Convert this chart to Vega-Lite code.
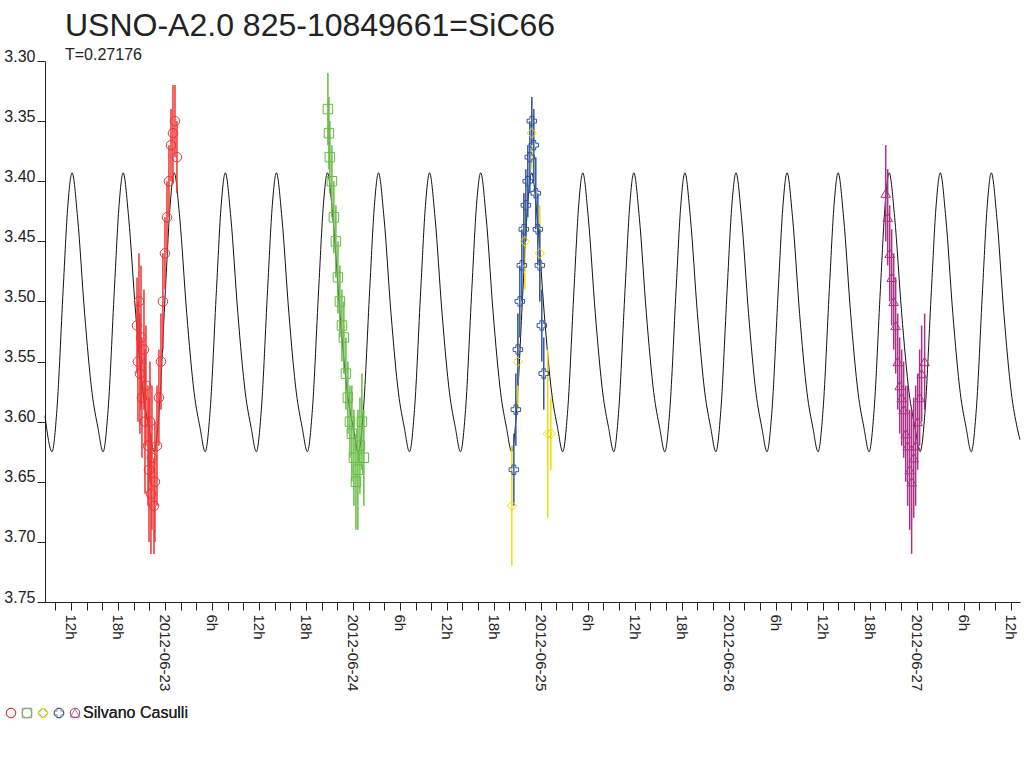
{
  "$schema": "https://vega.github.io/schema/vega-lite/v6.json",
  "autosize": "none",
  "padding": {"left": 45, "top": 61, "right": 4, "bottom": 166},
  "width": 975,
  "height": 541,
  "background": "white",
  "title": {
    "text": "USNO-A2.0 825-10849661=SiC66",
    "subtitle": "T=0.27176",
    "fontSize": 32, "fontWeight": "normal", "color": "#222",
    "subtitleFontSize": 16, "subtitleColor": "#222", "subtitlePadding": 4,
    "anchor": "start", "frame": "group", "dx": 20, "offset": -16
  },
  "datasets": {
    "model": [
      {"t": 8.68, "m": 3.595}, {"t": 9.58, "m": 3.625}, {"t": 10.2, "m": 3.59}, {"t": 11.0, "m": 3.49}, {"t": 11.6, "m": 3.42},
      {"t": 12.14, "m": 3.393}, {"t": 12.84, "m": 3.43}, {"t": 13.74, "m": 3.51}, {"t": 14.69, "m": 3.576}, {"t": 15.44, "m": 3.605}, {"t": 16.10, "m": 3.625}, {"t": 16.74, "m": 3.59}, {"t": 17.54, "m": 3.49}, {"t": 18.14, "m": 3.42},
      {"t": 18.66, "m": 3.393}, {"t": 19.36, "m": 3.43}, {"t": 20.26, "m": 3.51}, {"t": 21.21, "m": 3.576}, {"t": 21.96, "m": 3.605}, {"t": 22.62, "m": 3.625}, {"t": 23.26, "m": 3.59}, {"t": 24.06, "m": 3.49}, {"t": 24.66, "m": 3.42},
      {"t": 25.18, "m": 3.393}, {"t": 25.88, "m": 3.43}, {"t": 26.78, "m": 3.51}, {"t": 27.73, "m": 3.576}, {"t": 28.48, "m": 3.605}, {"t": 29.14, "m": 3.625}, {"t": 29.78, "m": 3.59}, {"t": 30.58, "m": 3.49}, {"t": 31.18, "m": 3.42},
      {"t": 31.71, "m": 3.393}, {"t": 32.41, "m": 3.43}, {"t": 33.31, "m": 3.51}, {"t": 34.26, "m": 3.576}, {"t": 35.01, "m": 3.605}, {"t": 35.67, "m": 3.625}, {"t": 36.31, "m": 3.59}, {"t": 37.11, "m": 3.49}, {"t": 37.71, "m": 3.42},
      {"t": 38.23, "m": 3.393}, {"t": 38.93, "m": 3.43}, {"t": 39.83, "m": 3.51}, {"t": 40.78, "m": 3.576}, {"t": 41.53, "m": 3.605}, {"t": 42.19, "m": 3.625}, {"t": 42.83, "m": 3.59}, {"t": 43.63, "m": 3.49}, {"t": 44.23, "m": 3.42},
      {"t": 44.75, "m": 3.393}, {"t": 45.45, "m": 3.43}, {"t": 46.35, "m": 3.51}, {"t": 47.30, "m": 3.576}, {"t": 48.05, "m": 3.605}, {"t": 48.71, "m": 3.625}, {"t": 49.35, "m": 3.59}, {"t": 50.15, "m": 3.49}, {"t": 50.75, "m": 3.42},
      {"t": 51.27, "m": 3.393}, {"t": 51.97, "m": 3.43}, {"t": 52.87, "m": 3.51}, {"t": 53.82, "m": 3.576}, {"t": 54.57, "m": 3.605}, {"t": 55.23, "m": 3.625}, {"t": 55.87, "m": 3.59}, {"t": 56.67, "m": 3.49}, {"t": 57.27, "m": 3.42},
      {"t": 57.79, "m": 3.393}, {"t": 58.49, "m": 3.43}, {"t": 59.39, "m": 3.51}, {"t": 60.34, "m": 3.576}, {"t": 61.09, "m": 3.605}, {"t": 61.75, "m": 3.625}, {"t": 62.39, "m": 3.59}, {"t": 63.19, "m": 3.49}, {"t": 63.79, "m": 3.42},
      {"t": 64.32, "m": 3.393}, {"t": 65.02, "m": 3.43}, {"t": 65.92, "m": 3.51}, {"t": 66.87, "m": 3.576}, {"t": 67.62, "m": 3.605}, {"t": 68.28, "m": 3.625}, {"t": 68.92, "m": 3.59}, {"t": 69.72, "m": 3.49}, {"t": 70.32, "m": 3.42},
      {"t": 70.84, "m": 3.393}, {"t": 71.54, "m": 3.43}, {"t": 72.44, "m": 3.51}, {"t": 73.39, "m": 3.576}, {"t": 74.14, "m": 3.605}, {"t": 74.80, "m": 3.625}, {"t": 75.44, "m": 3.59}, {"t": 76.24, "m": 3.49}, {"t": 76.84, "m": 3.42},
      {"t": 77.36, "m": 3.393}, {"t": 78.06, "m": 3.43}, {"t": 78.96, "m": 3.51}, {"t": 79.91, "m": 3.576}, {"t": 80.66, "m": 3.605}, {"t": 81.32, "m": 3.625}, {"t": 81.96, "m": 3.59}, {"t": 82.76, "m": 3.49}, {"t": 83.36, "m": 3.42},
      {"t": 83.88, "m": 3.393}, {"t": 84.58, "m": 3.43}, {"t": 85.48, "m": 3.51}, {"t": 86.43, "m": 3.576}, {"t": 87.18, "m": 3.605}, {"t": 87.84, "m": 3.625}, {"t": 88.48, "m": 3.59}, {"t": 89.28, "m": 3.49}, {"t": 89.88, "m": 3.42},
      {"t": 90.40, "m": 3.393}, {"t": 91.10, "m": 3.43}, {"t": 92.00, "m": 3.51}, {"t": 92.95, "m": 3.576}, {"t": 93.70, "m": 3.605}, {"t": 94.36, "m": 3.625}, {"t": 95.00, "m": 3.59}, {"t": 95.80, "m": 3.49}, {"t": 96.40, "m": 3.42},
      {"t": 96.93, "m": 3.393}, {"t": 97.63, "m": 3.43}, {"t": 98.53, "m": 3.51}, {"t": 99.48, "m": 3.576}, {"t": 100.23, "m": 3.605}, {"t": 100.89, "m": 3.625}, {"t": 101.53, "m": 3.59}, {"t": 102.33, "m": 3.49}, {"t": 102.93, "m": 3.42},
      {"t": 103.45, "m": 3.393}, {"t": 104.15, "m": 3.43}, {"t": 105.05, "m": 3.51}, {"t": 106.00, "m": 3.576}, {"t": 106.75, "m": 3.605}, {"t": 107.41, "m": 3.625}, {"t": 108.05, "m": 3.59}, {"t": 108.85, "m": 3.49}, {"t": 109.45, "m": 3.42},
      {"t": 109.97, "m": 3.393}, {"t": 110.67, "m": 3.43}, {"t": 111.57, "m": 3.51}, {"t": 112.52, "m": 3.576}, {"t": 113.27, "m": 3.605}, {"t": 113.93, "m": 3.625}, {"t": 114.57, "m": 3.59}, {"t": 115.37, "m": 3.49}, {"t": 115.97, "m": 3.42},
      {"t": 116.49, "m": 3.393}, {"t": 117.19, "m": 3.43}, {"t": 118.09, "m": 3.51}, {"t": 119.04, "m": 3.576}, {"t": 119.79, "m": 3.605}, {"t": 120.45, "m": 3.625}, {"t": 121.09, "m": 3.59}, {"t": 121.89, "m": 3.49}, {"t": 122.49, "m": 3.42},
      {"t": 123.02, "m": 3.393}, {"t": 123.72, "m": 3.43}, {"t": 124.62, "m": 3.51}, {"t": 125.57, "m": 3.576}, {"t": 126.32, "m": 3.605}, {"t": 126.98, "m": 3.625}, {"t": 127.62, "m": 3.59}, {"t": 128.42, "m": 3.49}, {"t": 129.02, "m": 3.42},
      {"t": 129.54, "m": 3.393}, {"t": 130.24, "m": 3.43}, {"t": 131.14, "m": 3.51}, {"t": 132.09, "m": 3.576}, {"t": 132.84, "m": 3.605}, {"t": 133.2, "m": 3.615}
    ],
    "obs": [
      {"s": "r", "t": 20.43, "m": 3.52, "e": 0.04}, {"s": "r", "t": 20.55, "m": 3.55, "e": 0.05}, {"s": "r", "t": 20.68, "m": 3.50, "e": 0.04},
      {"s": "r", "t": 20.80, "m": 3.56, "e": 0.05}, {"s": "r", "t": 20.94, "m": 3.53, "e": 0.06}, {"s": "r", "t": 21.06, "m": 3.58, "e": 0.05},
      {"s": "r", "t": 21.32, "m": 3.54, "e": 0.05}, {"s": "r", "t": 21.45, "m": 3.60, "e": 0.06}, {"s": "r", "t": 21.57, "m": 3.57, "e": 0.05},
      {"s": "r", "t": 21.83, "m": 3.62, "e": 0.05}, {"s": "r", "t": 21.96, "m": 3.64, "e": 0.06}, {"s": "r", "t": 22.09, "m": 3.60, "e": 0.05},
      {"s": "r", "t": 22.21, "m": 3.66, "e": 0.05}, {"s": "r", "t": 22.34, "m": 3.63, "e": 0.06}, {"s": "r", "t": 22.60, "m": 3.67, "e": 0.04},
      {"s": "r", "t": 22.72, "m": 3.65, "e": 0.05}, {"s": "r", "t": 22.98, "m": 3.62, "e": 0.05}, {"s": "r", "t": 23.23, "m": 3.58, "e": 0.04},
      {"s": "r", "t": 23.49, "m": 3.55, "e": 0.04}, {"s": "r", "t": 23.74, "m": 3.50, "e": 0.04}, {"s": "r", "t": 24.00, "m": 3.46, "e": 0.03},
      {"s": "r", "t": 24.26, "m": 3.43, "e": 0.03}, {"s": "r", "t": 24.51, "m": 3.40, "e": 0.03}, {"s": "r", "t": 24.77, "m": 3.37, "e": 0.03},
      {"s": "r", "t": 25.02, "m": 3.36, "e": 0.04}, {"s": "r", "t": 25.28, "m": 3.35, "e": 0.03}, {"s": "r", "t": 25.53, "m": 3.38, "e": 0.03},
      {"s": "g", "t": 44.81, "m": 3.34, "e": 0.03}, {"s": "g", "t": 44.94, "m": 3.36, "e": 0.03}, {"s": "g", "t": 45.06, "m": 3.38, "e": 0.03},
      {"s": "g", "t": 45.32, "m": 3.40, "e": 0.03}, {"s": "g", "t": 45.57, "m": 3.43, "e": 0.03}, {"s": "g", "t": 45.83, "m": 3.45, "e": 0.03},
      {"s": "g", "t": 46.09, "m": 3.48, "e": 0.03}, {"s": "g", "t": 46.34, "m": 3.50, "e": 0.03}, {"s": "g", "t": 46.60, "m": 3.52, "e": 0.03},
      {"s": "g", "t": 46.85, "m": 3.53, "e": 0.03}, {"s": "g", "t": 47.11, "m": 3.56, "e": 0.03}, {"s": "g", "t": 47.36, "m": 3.58, "e": 0.03},
      {"s": "g", "t": 47.62, "m": 3.60, "e": 0.03}, {"s": "g", "t": 47.87, "m": 3.61, "e": 0.04}, {"s": "g", "t": 48.13, "m": 3.63, "e": 0.04},
      {"s": "g", "t": 48.39, "m": 3.65, "e": 0.04}, {"s": "g", "t": 48.64, "m": 3.64, "e": 0.05}, {"s": "g", "t": 48.90, "m": 3.62, "e": 0.04},
      {"s": "g", "t": 49.15, "m": 3.60, "e": 0.04}, {"s": "g", "t": 49.40, "m": 3.63, "e": 0.04},
      {"s": "y", "t": 68.30, "m": 3.67, "e": 0.05}, {"s": "y", "t": 69.07, "m": 3.55, "e": 0.04}, {"s": "y", "t": 69.96, "m": 3.45, "e": 0.04},
      {"s": "y", "t": 70.85, "m": 3.36, "e": 0.03}, {"s": "y", "t": 71.87, "m": 3.46, "e": 0.04}, {"s": "y", "t": 72.89, "m": 3.61, "e": 0.07},
      {"s": "y", "t": 73.28, "m": 3.61, "e": 0.03},
      {"s": "b", "t": 68.56, "m": 3.64, "e": 0.03}, {"s": "b", "t": 68.81, "m": 3.59, "e": 0.03}, {"s": "b", "t": 69.07, "m": 3.54, "e": 0.03},
      {"s": "b", "t": 69.32, "m": 3.50, "e": 0.03}, {"s": "b", "t": 69.58, "m": 3.47, "e": 0.03}, {"s": "b", "t": 69.83, "m": 3.44, "e": 0.03},
      {"s": "b", "t": 70.09, "m": 3.42, "e": 0.03}, {"s": "b", "t": 70.34, "m": 3.40, "e": 0.03}, {"s": "b", "t": 70.60, "m": 3.38, "e": 0.03},
      {"s": "b", "t": 70.85, "m": 3.35, "e": 0.02}, {"s": "b", "t": 71.11, "m": 3.37, "e": 0.03}, {"s": "b", "t": 71.36, "m": 3.41, "e": 0.03},
      {"s": "b", "t": 71.62, "m": 3.44, "e": 0.03}, {"s": "b", "t": 71.87, "m": 3.47, "e": 0.03}, {"s": "b", "t": 72.13, "m": 3.52, "e": 0.03},
      {"s": "b", "t": 72.38, "m": 3.56, "e": 0.03},
      {"s": "m", "t": 116.05, "m": 3.41, "e": 0.04}, {"s": "m", "t": 116.30, "m": 3.43, "e": 0.04}, {"s": "m", "t": 116.56, "m": 3.46, "e": 0.04},
      {"s": "m", "t": 116.81, "m": 3.48, "e": 0.04}, {"s": "m", "t": 117.07, "m": 3.50, "e": 0.04}, {"s": "m", "t": 117.32, "m": 3.52, "e": 0.04},
      {"s": "m", "t": 117.58, "m": 3.55, "e": 0.04}, {"s": "m", "t": 117.83, "m": 3.57, "e": 0.04}, {"s": "m", "t": 118.09, "m": 3.58, "e": 0.04},
      {"s": "m", "t": 118.34, "m": 3.59, "e": 0.04}, {"s": "m", "t": 118.60, "m": 3.61, "e": 0.04}, {"s": "m", "t": 118.85, "m": 3.62, "e": 0.05},
      {"s": "m", "t": 119.11, "m": 3.64, "e": 0.05}, {"s": "m", "t": 119.36, "m": 3.65, "e": 0.06}, {"s": "m", "t": 119.62, "m": 3.63, "e": 0.05},
      {"s": "m", "t": 119.87, "m": 3.62, "e": 0.05}, {"s": "m", "t": 120.13, "m": 3.60, "e": 0.04}, {"s": "m", "t": 120.38, "m": 3.58, "e": 0.04},
      {"s": "m", "t": 120.64, "m": 3.56, "e": 0.04}, {"s": "m", "t": 121.02, "m": 3.55, "e": 0.04}
    ]
  },
  "encoding": {
    "x": {
      "field": "t", "type": "quantitative", "title": null,
      "scale": {"domain": [8.68, 133.2], "nice": false, "zero": false},
      "axis": {
        "values": [10, 12, 14, 16, 18, 20, 22, 24, 26, 28, 30, 32, 34, 36, 38, 40, 42, 44, 46, 48, 50, 52, 54, 56, 58, 60, 62, 64, 66, 68, 70, 72, 74, 76, 78, 80, 82, 84, 86, 88, 90, 92, 94, 96, 98, 100, 102, 104, 106, 108, 110, 112, 114, 116, 118, 120, 122, 124, 126, 128, 130, 132],
        "labelExpr": "datum.value % 6 != 0 ? '' : (datum.value % 24 == 0 ? '2012-06-' + (22 + datum.value / 24) : (datum.value % 24) + 'h')",
        "labelAngle": 90, "labelAlign": "left", "labelBaseline": "middle",
        "labelFontSize": 15, "labelColor": "#222", "labelOverlap": false,
        "tickSize": 8, "tickColor": "#222", "domainColor": "#222", "grid": false, "labelPadding": 4
      }
    },
    "y": {
      "field": "m", "type": "quantitative", "title": null,
      "scale": {"domain": [3.30, 3.75], "reverse": true, "nice": false, "zero": false},
      "axis": {
        "values": [3.30, 3.35, 3.40, 3.45, 3.50, 3.55, 3.60, 3.65, 3.70, 3.75],
        "format": ".2f", "labelFontSize": 16, "labelColor": "#222", "labelBaseline": "alphabetic",
        "tickSize": 8, "tickColor": "#222", "domainColor": "#222", "grid": false, "labelPadding": 2
      }
    }
  },
  "layer": [
    {
      "data": {"name": "model"},
      "mark": {"type": "line", "color": "#111", "strokeWidth": 1, "interpolate": "monotone"}
    },
    {
      "data": {"name": "obs"},
      "mark": {"type": "errorbar", "thickness": 1.5, "opacity": 1},
      "encoding": {
        "yError": {"field": "e"},
        "color": {"field": "s", "type": "nominal", "legend": null,
          "scale": {"domain": ["r", "g", "y", "b", "m"], "range": ["#ee3333", "#66bb44", "#eedd00", "#3355aa", "#aa3388"]}}
      }
    },
    {
      "data": {"name": "obs"},
      "mark": {"type": "point", "filled": false, "size": 90, "strokeWidth": 1, "opacity": 1},
      "encoding": {
        "color": {"field": "s", "type": "nominal",
          "scale": {"domain": ["r", "g", "y", "b", "m"], "range": ["#ee3333", "#66bb44", "#eedd00", "#3355aa", "#aa3388"]},
          "legend": {
            "orient": "none", "legendX": -42, "legendY": 644, "direction": "horizontal",
            "title": null, "columns": 5, "columnPadding": 0, "symbolSize": 90, "symbolStrokeWidth": 1,
            "symbolOpacity": 1, "labelFontSize": 16, "labelColor": "#222", "labelOffset": 0, "labelLimit": 200,
            "labelExpr": "datum.value == 'm' ? ' Silvano Casulli' : ''"
          }},
        "shape": {"field": "s", "type": "nominal",
          "scale": {"domain": ["r", "g", "y", "b", "m"], "range": ["circle", "square", "diamond", "cross", "triangle-up"]},
          "legend": {
            "orient": "none", "legendX": -42, "legendY": 644, "direction": "horizontal",
            "title": null, "columns": 5, "columnPadding": 0, "symbolSize": 90, "symbolStrokeWidth": 1,
            "symbolOpacity": 1, "labelFontSize": 16, "labelColor": "#222", "labelOffset": 0, "labelLimit": 200,
            "labelExpr": "datum.value == 'm' ? ' Silvano Casulli' : ''"
          }}
      }
    }
  ],
  "resolve": {"scale": {"color": "independent"}},
  "config": {
    "view": {"stroke": null},
    "font": "Liberation Sans"
  }
}
